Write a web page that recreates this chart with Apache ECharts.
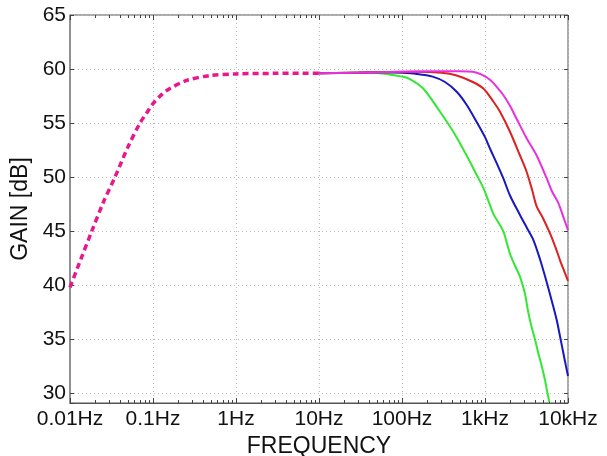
<!DOCTYPE html>
<html>
<head>
<meta charset="utf-8">
<script src="https://cdn.jsdelivr.net/npm/echarts@6/dist/echarts.min.js"></script>
<style>
  html, body { margin: 0; padding: 0; background: #fff; }
  #chart { width: 607px; height: 456px; }
</style>
</head>
<body>
<div id="chart"></div>
<script>
// frequency ticks (Hz) and their labels
const xTicks = [0.01, 0.1, 1, 10, 100, 1000, 10000];
const xTickLabels = ['0.01Hz', '0.1Hz', '1Hz', '10Hz', '100Hz', '1kHz', '10kHz'];
const xMinorTicks = [0.02, 0.03, 0.04, 0.05, 0.06, 0.07, 0.08, 0.09,
  0.2, 0.3, 0.4, 0.5, 0.6, 0.7, 0.8, 0.9,
  2, 3, 4, 5, 6, 7, 8, 9,
  20, 30, 40, 50, 60, 70, 80, 90,
  200, 300, 400, 500, 600, 700, 800, 900,
  2000, 3000, 4000, 5000, 6000, 7000, 8000, 9000];
const yTickLabels = [30, 35, 40, 45, 50, 55, 60, 65];

// shared low-frequency part (dashed), [Hz, dB]
const lowBand = [[0.01, 39.8], [0.0135, 42.4], [0.0183, 45.0], [0.025, 47.6], [0.0348, 50.0],
  [0.05, 52.8], [0.0697, 55.0], [0.085, 56.0], [0.1, 56.8], [0.13, 57.7], [0.16, 58.2],
  [0.255, 58.95], [0.487, 59.4], [1, 59.55], [3, 59.6], [10, 59.6]];

const greenCurve = [[10, 59.6], [20, 59.65], [40, 59.7], [70, 59.5], [100, 59.3], [123, 59.1],
  [180, 58.2], [287, 56.05], [415, 54.2], [601, 52.0], [794, 50.2], [955, 49.0], [1100, 47.8],
  [1260, 46.6], [1450, 45.8], [1660, 45.0], [1850, 43.8], [2000, 42.9], [2300, 41.8],
  [2640, 40.8], [3030, 39.2], [3300, 37.6], [3650, 36.1], [4000, 35.0], [4390, 33.7],
  [4800, 32.6], [5290, 31.2], [5600, 30.2], [5960, 29.2]];

const blueCurve = [[10, 59.6], [30, 59.65], [60, 59.7], [100, 59.65], [150, 59.55], [234, 59.3],
  [330, 58.8], [456, 57.9], [600, 56.7], [794, 55.1], [1000, 53.7], [1148, 52.65], [1400, 51.2],
  [1660, 49.9], [2000, 48.3], [2640, 46.5], [3200, 45.3], [3820, 44.2], [4600, 42.4],
  [5530, 40.3], [6400, 38.5], [7300, 36.8], [8000, 35.3], [8800, 33.7], [9400, 32.6],
  [10000, 31.6]];

const redCurve = [[10, 59.6], [50, 59.7], [150, 59.75], [300, 59.65], [456, 59.4], [713, 58.8],
  [955, 58.2], [1259, 57.0], [1517, 56.05], [2000, 54.2], [2640, 52.0], [3170, 50.5],
  [3700, 48.8], [4190, 47.3], [5000, 46.2], [6070, 44.8], [7000, 43.6], [8020, 42.3],
  [9000, 41.3], [10000, 40.4]];

const magentaCurve = [[10, 59.6], [50, 59.7], [200, 59.8], [500, 59.8], [713, 59.75],
  [900, 59.5], [1148, 59.0], [1400, 58.3], [1660, 57.6], [2000, 56.6], [2400, 55.4],
  [3170, 53.6], [4190, 52.0], [5530, 49.9], [6500, 48.6], [7660, 47.6], [8800, 46.3],
  [10000, 45.1]];

const font = '"Liberation Sans", Arial, Helvetica, sans-serif';
const frameColor = '#555';
const gridLine = { show: true, lineStyle: { color: '#bbb', type: [1, 3], width: 1 } };

const chart = echarts.init(document.getElementById('chart'));

function xLabel(v) {
  const i = Math.round(Math.log10(v)) + 2;
  return xTickLabels[i] || '';
}

// helper axes (no data) that only draw the inward tick marks of the box
function tickAxis(position, values, len) {
  return {
    type: 'log', logBase: 10, position: position, min: 0.01, max: 10000,
    axisLine: { show: false, onZero: false },
    axisLabel: { show: false },
    splitLine: { show: false },
    axisTick: {
      show: true, inside: true, length: len,
      customValues: values,
      lineStyle: { color: '#444', width: 1 }
    }
  };
}

const option = {
  animation: false,
  backgroundColor: '#fff',
  grid: {
    left: 70, right: 39, top: 15, bottom: 53,
    outerBoundsMode: 'none',
    show: true, borderColor: frameColor, borderWidth: 1, backgroundColor: 'transparent'
  },
  xAxis: [
    {
      type: 'log', logBase: 10, min: 0.01, max: 10000,
      position: 'bottom',
      name: 'FREQUENCY', nameLocation: 'middle', nameGap: 29,
      nameTextStyle: { fontFamily: font, fontSize: 23, color: '#111' },
      axisLine: { show: true, onZero: false, lineStyle: { color: frameColor, width: 1 } },
      axisTick: { show: false },
      axisLabel: { show: true, margin: 6, fontFamily: font, fontSize: 21, color: '#111', formatter: xLabel },
      splitLine: gridLine
    },
    tickAxis('bottom', xTicks, 5),
    tickAxis('bottom', xMinorTicks, 3),
    tickAxis('top', xTicks, 5),
    tickAxis('top', xMinorTicks, 3)
  ],
  yAxis: [
    {
      type: 'value', min: 29.1, max: 65, splitNumber: 7,
      position: 'left',
      name: 'GAIN [dB]', nameLocation: 'middle', nameGap: 36,
      nameTextStyle: { fontFamily: font, fontSize: 23, color: '#111' },
      axisLine: { show: true, onZero: false, lineStyle: { color: '#888', width: 1.5 } },
      axisTick: { show: true, inside: true, length: 4, lineStyle: { color: '#444' } },
      axisLabel: {
        margin: 4, fontFamily: font, fontSize: 21, color: '#111',
        formatter: v => (yTickLabels.indexOf(Math.round(v * 10) / 10) >= 0 ? String(v) : '')
      },
      splitLine: gridLine
    },
    {
      type: 'value', min: 29.1, max: 65, splitNumber: 7,
      position: 'right',
      axisLine: { show: false, onZero: false },
      axisTick: { show: true, inside: true, length: 4, lineStyle: { color: '#444' } },
      axisLabel: { show: false },
      splitLine: { show: false }
    }
  ],
  series: [
    { name: 'green', type: 'line', data: greenCurve, showSymbol: false, smooth: 0.3,
      lineStyle: { color: '#33e833', width: 2 }, z: 3 },
    { name: 'blue', type: 'line', data: blueCurve, showSymbol: false, smooth: 0.3,
      lineStyle: { color: '#1818c0', width: 2 }, z: 4 },
    { name: 'red', type: 'line', data: redCurve, showSymbol: false, smooth: 0.3,
      lineStyle: { color: '#dd2020', width: 2 }, z: 5 },
    { name: 'magenta', type: 'line', data: magentaCurve, showSymbol: false, smooth: 0.3,
      lineStyle: { color: '#e830e0', width: 2 }, z: 6 },
    { name: 'low', type: 'line', data: lowBand, showSymbol: false, smooth: 0.3,
      lineStyle: { color: '#e8188c', width: 3.5, type: [6, 4] }, z: 7 }
  ]
};

chart.setOption(option);
</script>
</body>
</html>
